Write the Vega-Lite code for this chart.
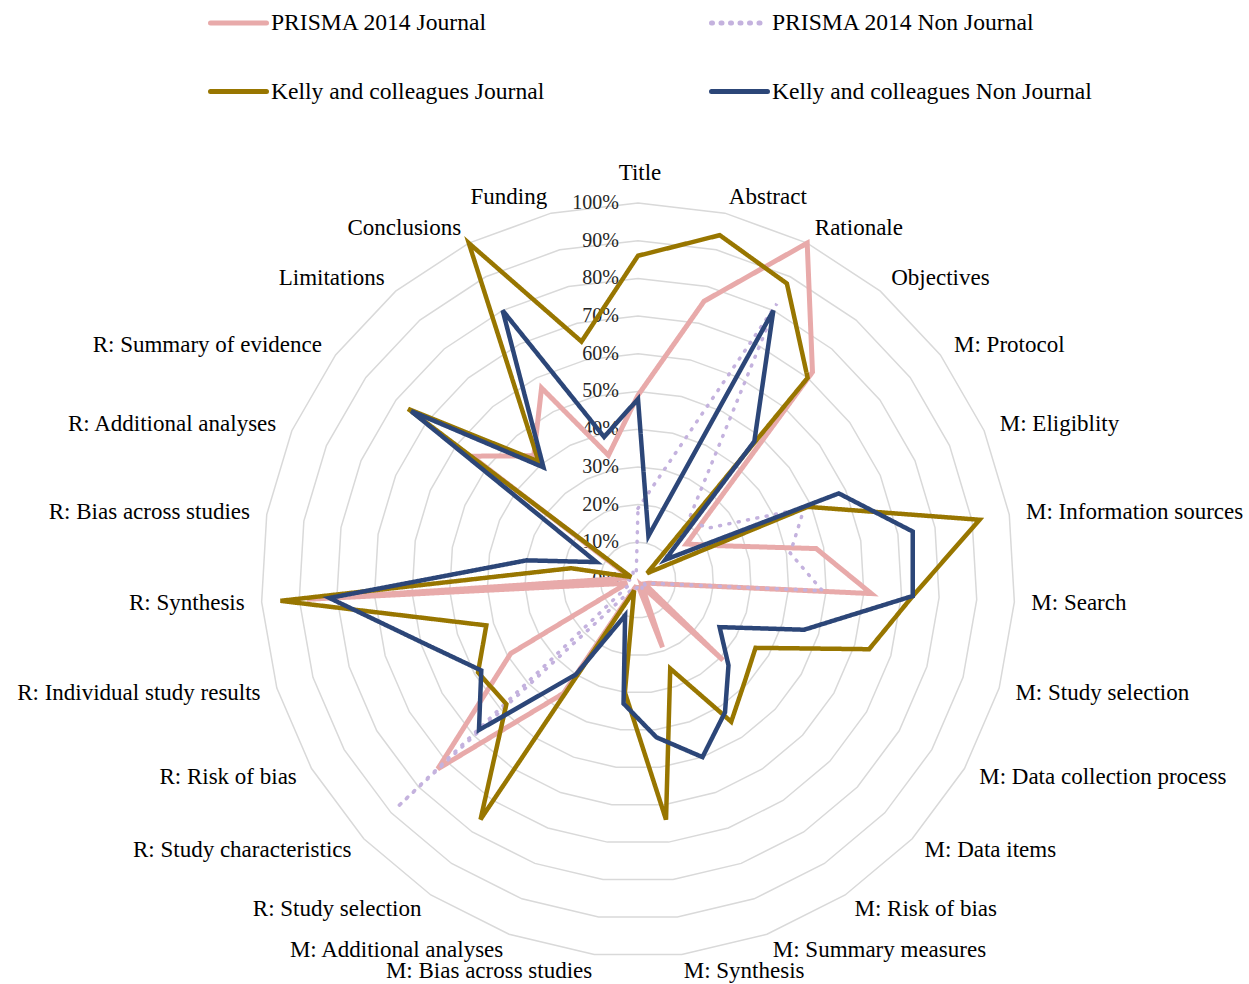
{
  "$schema": "https://vega.github.io/schema/vega-lite/v6.json",
  "width": 1249,
  "height": 984,
  "padding": 0,
  "autosize": {"type": "none"},
  "background": "white",
  "config": {
    "view": {"stroke": null},
    "legend": {
      "orient": "none",
      "legendX": 208,
      "legendY": -8,
      "direction": "horizontal",
      "columns": 2,
      "columnPadding": 156,
      "rowPadding": 26,
      "symbolType": "stroke",
      "symbolSize": 3136,
      "symbolStrokeWidth": 5,
      "labelFont": "Liberation Serif",
      "labelFontSize": 23.6,
      "labelColor": "#000000",
      "labelOffset": 2,
      "labelLimit": 0,
      "padding": 0
    }
  },
  "data": {
    "values": [
      {"idx": 0, "cat": "Title", "PRISMA 2014 Journal": 49, "PRISMA 2014 Non Journal": 19, "Kelly and colleagues Journal": 86, "Kelly and colleagues Non Journal": 48},
      {"idx": 1, "cat": "Abstract", "PRISMA 2014 Journal": 76, "PRISMA 2014 Non Journal": 30, "Kelly and colleagues Journal": 94, "Kelly and colleagues Non Journal": 12},
      {"idx": 2, "cat": "Rationale", "PRISMA 2014 Journal": 100, "PRISMA 2014 Non Journal": 82, "Kelly and colleagues Journal": 88, "Kelly and colleagues Non Journal": 80},
      {"idx": 3, "cat": "Objectives", "PRISMA 2014 Journal": 72, "PRISMA 2014 Non Journal": 21, "Kelly and colleagues Journal": 70, "Kelly and colleagues Non Journal": 48},
      {"idx": 4, "cat": "M: Protocol", "PRISMA 2014 Journal": 16, "PRISMA 2014 Non Journal": 23, "Kelly and colleagues Journal": 3, "Kelly and colleagues Non Journal": 9},
      {"idx": 5, "cat": "M: Eligiblity", "PRISMA 2014 Journal": 23, "PRISMA 2014 Non Journal": 48, "Kelly and colleagues Journal": 49, "Kelly and colleagues Non Journal": 58},
      {"idx": 6, "cat": "M: Information sources", "PRISMA 2014 Journal": 48, "PRISMA 2014 Non Journal": 41, "Kelly and colleagues Journal": 92, "Kelly and colleagues Non Journal": 74},
      {"idx": 7, "cat": "M: Search", "PRISMA 2014 Journal": 62, "PRISMA 2014 Non Journal": 49, "Kelly and colleagues Journal": 73, "Kelly and colleagues Non Journal": 73},
      {"idx": 8, "cat": "M: Study selection", "PRISMA 2014 Journal": 3, "PRISMA 2014 Non Journal": 3, "Kelly and colleagues Journal": 64, "Kelly and colleagues Non Journal": 46},
      {"idx": 9, "cat": "M: Data collection process", "PRISMA 2014 Journal": 2, "PRISMA 2014 Non Journal": 2, "Kelly and colleagues Journal": 36, "Kelly and colleagues Non Journal": 25},
      {"idx": 10, "cat": "M: Data items", "PRISMA 2014 Journal": 31, "PRISMA 2014 Non Journal": 3, "Kelly and colleagues Journal": 39, "Kelly and colleagues Non Journal": 33},
      {"idx": 11, "cat": "M: Risk of bias", "PRISMA 2014 Journal": 2, "PRISMA 2014 Non Journal": 2, "Kelly and colleagues Journal": 45, "Kelly and colleagues Non Journal": 42},
      {"idx": 12, "cat": "M: Summary measures", "PRISMA 2014 Journal": 19, "PRISMA 2014 Non Journal": 3, "Kelly and colleagues Journal": 25, "Kelly and colleagues Non Journal": 50},
      {"idx": 13, "cat": "M: Synthesis", "PRISMA 2014 Journal": 2, "PRISMA 2014 Non Journal": 2, "Kelly and colleagues Journal": 64, "Kelly and colleagues Non Journal": 42},
      {"idx": 14, "cat": "M: Bias across studies", "PRISMA 2014 Journal": 2, "PRISMA 2014 Non Journal": 2, "Kelly and colleagues Journal": 30, "Kelly and colleagues Non Journal": 33},
      {"idx": 15, "cat": "M: Additional analyses", "PRISMA 2014 Journal": 2, "PRISMA 2014 Non Journal": 3, "Kelly and colleagues Journal": 3, "Kelly and colleagues Non Journal": 10},
      {"idx": 16, "cat": "R: Study selection", "PRISMA 2014 Journal": 36, "PRISMA 2014 Non Journal": 3, "Kelly and colleagues Journal": 76, "Kelly and colleagues Non Journal": 30},
      {"idx": 17, "cat": "R: Study characteristics", "PRISMA 2014 Journal": 73, "PRISMA 2014 Non Journal": 88, "Kelly and colleagues Journal": 48, "Kelly and colleagues Non Journal": 58},
      {"idx": 18, "cat": "R: Risk of bias", "PRISMA 2014 Journal": 39, "PRISMA 2014 Non Journal": 3, "Kelly and colleagues Journal": 49, "Kelly and colleagues Non Journal": 48},
      {"idx": 19, "cat": "R: Individual study results", "PRISMA 2014 Journal": 3, "PRISMA 2014 Non Journal": 2, "Kelly and colleagues Journal": 42, "Kelly and colleagues Non Journal": 59},
      {"idx": 20, "cat": "R: Synthesis", "PRISMA 2014 Journal": 88, "PRISMA 2014 Non Journal": 2, "Kelly and colleagues Journal": 95, "Kelly and colleagues Non Journal": 82},
      {"idx": 21, "cat": "R: Bias across studies", "PRISMA 2014 Journal": 3, "PRISMA 2014 Non Journal": 4, "Kelly and colleagues Journal": 18, "Kelly and colleagues Non Journal": 30},
      {"idx": 22, "cat": "R: Additional analyses", "PRISMA 2014 Journal": 3, "PRISMA 2014 Non Journal": 3, "Kelly and colleagues Journal": 2, "Kelly and colleagues Non Journal": 12},
      {"idx": 23, "cat": "R: Summary of evidence", "PRISMA 2014 Journal": 55, "PRISMA 2014 Non Journal": 2, "Kelly and colleagues Journal": 76, "Kelly and colleagues Non Journal": 75},
      {"idx": 24, "cat": "Limitations", "PRISMA 2014 Journal": 43, "PRISMA 2014 Non Journal": 2, "Kelly and colleagues Journal": 41, "Kelly and colleagues Non Journal": 39},
      {"idx": 25, "cat": "Conclusions", "PRISMA 2014 Journal": 57, "PRISMA 2014 Non Journal": 3, "Kelly and colleagues Journal": 100, "Kelly and colleagues Non Journal": 80},
      {"idx": 26, "cat": "Funding", "PRISMA 2014 Journal": 34, "PRISMA 2014 Non Journal": 2, "Kelly and colleagues Journal": 65, "Kelly and colleagues Non Journal": 39}
    ]
  },
  "transform": [
    {"calculate": "datum.idx * 2 * PI / 27", "as": "ang"}
  ],
  "layer": [
    {
      "transform": [
        {"calculate": "[0.1,0.2,0.3,0.4,0.5,0.6,0.7,0.8,0.9,1]", "as": "lv"},
        {"flatten": ["lv"]},
        {"calculate": "datum.lv * sin(datum.ang)", "as": "gx"},
        {"calculate": "datum.lv * cos(datum.ang)", "as": "gy"}
      ],
      "mark": {"type": "line", "interpolate": "linear-closed", "color": "#d9d9d9", "strokeWidth": 1.5},
      "encoding": {
        "x": {"field": "gx", "type": "quantitative", "scale": {"domain": [-1.69231, 1.62069], "nice": false, "zero": false}, "axis": null},
        "y": {"field": "gy", "type": "quantitative", "scale": {"domain": [-1.07162, 1.53846], "nice": false, "zero": false}, "axis": null},
        "detail": {"field": "lv", "type": "nominal"},
        "order": {"field": "idx", "type": "quantitative"}
      }
    },
    {
      "transform": [
        {"filter": "datum.idx == 0"},
        {"calculate": "[0,0.1,0.2,0.3,0.4,0.5,0.6,0.7,0.8,0.9,1]", "as": "lv"},
        {"flatten": ["lv"]},
        {"calculate": "format(datum.lv, '.0%')", "as": "tick"}
      ],
      "mark": {"type": "text", "align": "right", "baseline": "middle", "dx": -19, "font": "Liberation Serif", "fontSize": 20, "color": "#262626"},
      "encoding": {
        "x": {"datum": 0, "type": "quantitative"},
        "y": {"field": "lv", "type": "quantitative"},
        "text": {"field": "tick"}
      }
    },
    {
      "transform": [
        {"calculate": "1.045 * sin(datum.ang)", "as": "lx"},
        {"calculate": "1.045 * cos(datum.ang)", "as": "ly"}
      ],
      "layer": [
        {
          "transform": [{"filter": "datum.idx == 0"}],
          "mark": {"type": "text", "align": "center", "baseline": "bottom", "dx": 2, "dy": -1, "font": "Liberation Serif", "fontSize": 23, "color": "#000000"},
          "encoding": {
            "x": {"field": "lx", "type": "quantitative"},
            "y": {"field": "ly", "type": "quantitative"},
            "text": {"field": "cat"}
          }
        },
        {
          "transform": [{"filter": "datum.idx >= 1 && datum.idx <= 13"}],
          "mark": {"type": "text", "align": "left", "baseline": "middle", "font": "Liberation Serif", "fontSize": 23, "color": "#000000"},
          "encoding": {
            "x": {"field": "lx", "type": "quantitative"},
            "y": {"field": "ly", "type": "quantitative"},
            "text": {"field": "cat"}
          }
        },
        {
          "transform": [{"filter": "datum.idx >= 14"}],
          "mark": {"type": "text", "align": "right", "baseline": "middle", "font": "Liberation Serif", "fontSize": 23, "color": "#000000"},
          "encoding": {
            "x": {"field": "lx", "type": "quantitative"},
            "y": {"field": "ly", "type": "quantitative"},
            "text": {"field": "cat"}
          }
        }
      ]
    },
    {
      "transform": [
        {"fold": ["PRISMA 2014 Journal", "PRISMA 2014 Non Journal", "Kelly and colleagues Journal", "Kelly and colleagues Non Journal"], "as": ["series", "value"]},
        {"calculate": "datum.value / 100 * sin(datum.ang)", "as": "sx"},
        {"calculate": "datum.value / 100 * cos(datum.ang)", "as": "sy"}
      ],
      "encoding": {
        "x": {"field": "sx", "type": "quantitative"},
        "y": {"field": "sy", "type": "quantitative"},
        "order": {"field": "idx", "type": "quantitative"},
        "color": {
          "field": "series",
          "type": "nominal",
          "scale": {
            "domain": ["PRISMA 2014 Journal", "PRISMA 2014 Non Journal", "Kelly and colleagues Journal", "Kelly and colleagues Non Journal"],
            "range": ["#E8AAAA", "#C4B2DE", "#987600", "#2C4678"]
          },
          "legend": {"title": null, "encode": {"symbols": {"update": {"strokeCap": {"value": "round"}}}}}
        },
        "strokeDash": {
          "field": "series",
          "type": "nominal",
          "scale": {
            "domain": ["PRISMA 2014 Journal", "PRISMA 2014 Non Journal", "Kelly and colleagues Journal", "Kelly and colleagues Non Journal"],
            "range": [[1, 0], [1, 8.5], [1, 0], [1, 0]]
          },
          "legend": {"title": null, "encode": {"symbols": {"update": {"strokeCap": {"value": "round"}}}}}
        }
      },
      "layer": [
        {
          "transform": [{"filter": "datum.series == 'PRISMA 2014 Journal'"}],
          "mark": {"type": "line", "interpolate": "linear-closed", "strokeWidth": 5, "strokeJoin": "miter"}
        },
        {
          "transform": [{"filter": "datum.series == 'PRISMA 2014 Non Journal'"}],
          "mark": {"type": "line", "interpolate": "linear-closed", "strokeWidth": 3.5, "strokeCap": "round"}
        },
        {
          "transform": [{"filter": "datum.series == 'Kelly and colleagues Journal'"}],
          "mark": {"type": "line", "interpolate": "linear-closed", "strokeWidth": 4.5, "strokeJoin": "miter"}
        },
        {
          "transform": [{"filter": "datum.series == 'Kelly and colleagues Non Journal'"}],
          "mark": {"type": "line", "interpolate": "linear-closed", "strokeWidth": 4.5, "strokeJoin": "miter"}
        }
      ]
    }
  ]
}
